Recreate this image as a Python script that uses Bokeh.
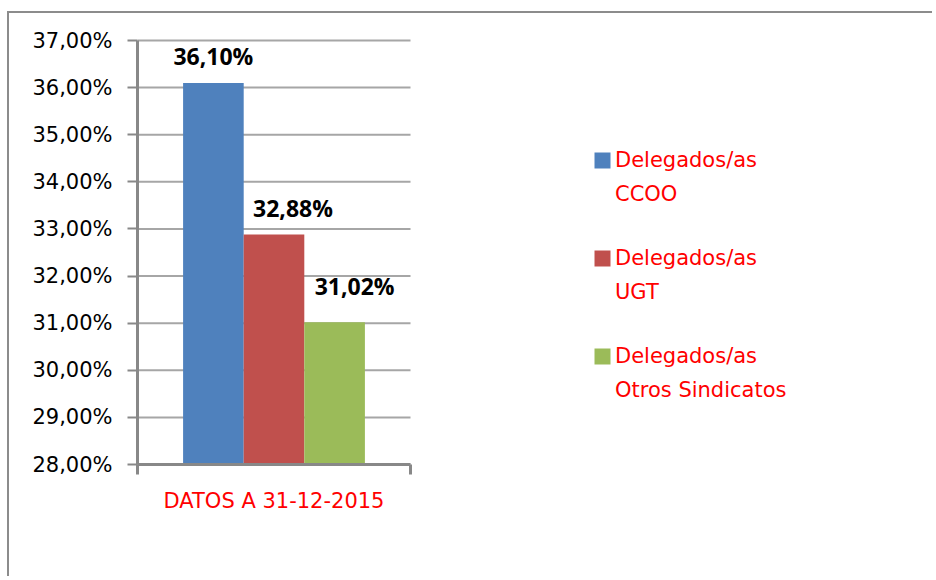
from bokeh.plotting import figure
from bokeh.models import (ColumnDataSource, Range1d, FixedTicker, CustomJSTickFormatter,
                          Legend, LegendItem)
from bokeh.core.properties import value
from bokeh.embed import file_html
from bokeh.resources import INLINE

# ---- data ----
categories = ["DATOS A 31-12-2015"]
series = ["Delegados/as\nCCOO", "Delegados/as\nUGT", "Delegados/as\nOtros Sindicatos"]
values = [36.10, 32.88, 31.02]
colors = ["#4F81BD", "#C0504D", "#9BBB59"]
y_ticks = [28, 29, 30, 31, 32, 33, 34, 35, 36, 37]

# ---- layout / styles ----
W, H = 925, 565
left, top, frame_h = 128, 25, 426
y_pad = 0.0425                     # a little room above the top gridline
slot_px = 273                      # pixel width of one category slot
frame_w = W - left - 8
bar_width = 0.222
label_dx = [0, 19, 20]             # px nudges of the data labels, as in the original
label_dy = [-27, -27, -36]

n = len(series)
xs = [0.5 + (i - (n - 1) / 2) * bar_width for i in range(n)]
labels = [("%.2f" % v).replace(".", ",") + "%" for v in values]
src = ColumnDataSource(dict(x=xs, top=values, label=labels, dx=label_dx, dy=label_dy))

x_end = len(categories) * frame_w / slot_px
p = figure(width=W, height=H, output_backend="svg", toolbar_location=None,
           x_range=Range1d(0, x_end), y_range=Range1d(y_ticks[0], y_ticks[-1] + y_pad),
           min_border_left=left, min_border_right=W - left - frame_w,
           min_border_top=top, min_border_bottom=H - top - frame_h)
p.styles = {"border-top": "2px solid #8c8c8c", "border-left": "2px solid #8c8c8c",
            "margin-top": "11px", "margin-left": "7px"}
p.outline_line_color = None
p.background_fill_color = "white"
p.border_fill_color = "white"

# horizontal gridlines across the category area only
p.segment(x0=0, x1=len(categories), y0=y_ticks, y1=y_ticks,
          line_color="#a6a6a6", line_width=2)

renderers = []
for i in range(n):
    r = p.vbar(x=[xs[i]], top=[values[i]], bottom=y_ticks[0], width=bar_width,
               fill_color=colors[i], line_color=None)
    renderers.append(r)

p.text(x="x", y="top", text="label", source=src, x_offset="dx", y_offset="dy",
       text_align="center", text_baseline="alphabetic",
       text_font=value("Open Sans"), text_font_style="bold", text_font_size="23px",
       text_color="black")

# y axis
p.yaxis.bounds = (y_ticks[0], y_ticks[-1])
p.yaxis.ticker = FixedTicker(ticks=y_ticks)
p.yaxis.formatter = CustomJSTickFormatter(code="return tick.toFixed(2).replace('.', ',') + '%';")
p.yaxis.major_label_text_font = "DejaVu Sans"
p.yaxis.major_label_text_font_size = "21px"
p.yaxis.major_label_text_color = "black"
p.yaxis.major_label_standoff = 15
p.yaxis.axis_line_color = "#888888"
p.yaxis.axis_line_width = 3
p.yaxis.major_tick_line_color = "#888888"
p.yaxis.major_tick_line_width = 2
p.yaxis.major_tick_in = 0
p.yaxis.major_tick_out = 10
p.yaxis.minor_tick_line_color = None

# x axis (only over the category slot): label at slot centre, ticks at slot edges
p.xaxis.bounds = (0, len(categories))
p.xaxis.ticker = FixedTicker(ticks=[i + 0.5 for i in range(len(categories))],
                             minor_ticks=list(range(len(categories) + 1)))
p.xaxis.major_label_overrides = {i + 0.5: c for i, c in enumerate(categories)}
p.xaxis.major_label_text_font = "DejaVu Sans"
p.xaxis.major_label_text_font_size = "21px"
p.xaxis.major_label_text_color = "#FF0000"
p.xaxis.major_label_standoff = 14
p.xaxis.major_tick_line_color = None
p.xaxis.major_tick_in = 0
p.xaxis.major_tick_out = 0
p.xaxis.minor_tick_line_color = "#888888"
p.xaxis.minor_tick_line_width = 3
p.xaxis.minor_tick_in = 0
p.xaxis.minor_tick_out = 10
p.xaxis.axis_line_color = "#888888"
p.xaxis.axis_line_width = 3

p.xgrid.grid_line_color = None
p.ygrid.grid_line_color = None

# legend: one row per text line, the square on the first line of each entry
items = []
for i, s in enumerate(series):
    first, second = s.split("\n")
    items.append(LegendItem(label=first, renderers=[renderers[i]]))
    items.append(LegendItem(label=second, renderers=[]))
    if i < n - 1:
        items.append(LegendItem(label=" ", renderers=[]))

legend = Legend(items=items, location=(455, 62), orientation="vertical",
                glyph_width=20, glyph_height=20, label_standoff=3, spacing=10,
                label_height=20, padding=0, margin=0,
                border_line_color=None, background_fill_alpha=0,
                label_text_font="DejaVu Sans", label_text_font_size="21px",
                label_text_color="#FF0000")
p.add_layout(legend)

open("out.html", "w").write(file_html(p, INLINE))
